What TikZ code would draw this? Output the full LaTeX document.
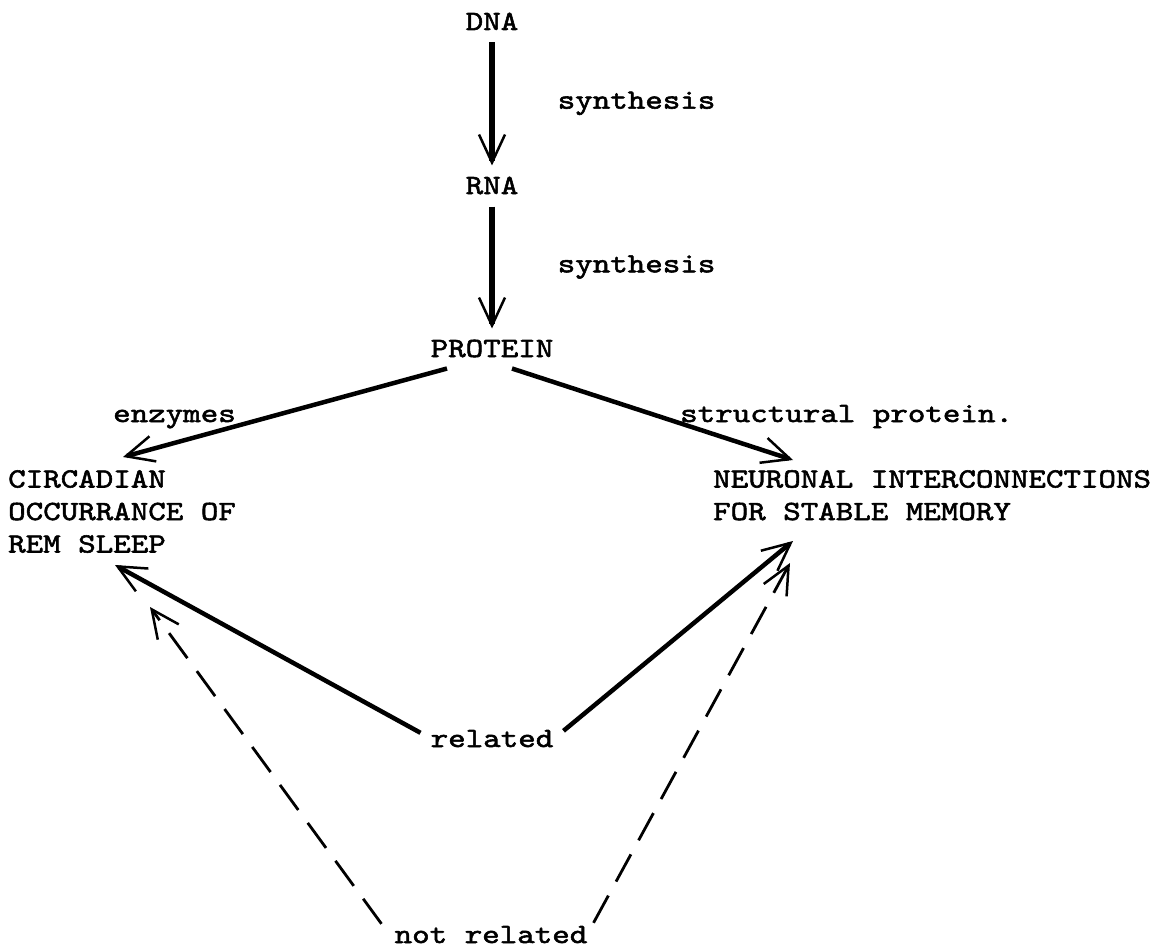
\documentclass[tikz,border=0pt]{standalone}
\usepackage{fontspec}
\setmonofont{lmmono10-regular.otf}[FakeStretch=1.2, FakeBold=2]
\usetikzlibrary{arrows.meta,positioning}

\begin{document}
\begin{tikzpicture}[x=1pt, y=-1pt,
node distance = 6pt and 63pt,
every node/.style = {inner sep=0pt, font=\ttfamily\fontsize{27.8}{32.5}\selectfont},
barb/.style = {-{Straight Barb[length=28pt,width=26pt,line width=2.5pt]}},
fat/.style = {barb, line width=4.5pt},
vert/.style = {fat, line width=5.5pt, shorten <=12pt, shorten >=11pt},
loose/.style = {barb, line width=2.8pt, dash pattern=on 31pt off 16pt}
                        ]
\useasboundingbox (0,0) rectangle (1167,950);
\node (dna) [anchor=base] at (492,30)  {DNA};
\node (rna) [anchor=base] at (492,194) {RNA};
\node (p)   [anchor=base] at (492,357) {PROTEIN};

\node (c) [anchor=north west, align=left] at (8,470)   {CIRCADIAN\\OCCURRANCE OF\\REM SLEEP};
\node (n) [anchor=north west, align=left] at (713,470) {NEURONAL INTERCONNECTIONS\\FOR STABLE MEMORY};

\node (enz)  [anchor=base west] at (113,422) {enzymes};
\node (str)  [anchor=base west] at (680,422) {structural protein.};
\node (rel)  [anchor=base] at (492,747) {related};
\node (nrel) [anchor=base] at (491,943) {not related};

%
\foreach \i/\j in {dna/rna, rna/p}
    \draw[vert] (\i) -- (\j) node[midway, right=63pt] {synthesis};

%
\draw[fat] ([xshift=-45pt,yshift=-11pt]p.south) -- ([xshift=115pt,yshift=13pt]c.north west);
\draw[fat] ([xshift=20pt,yshift=-11pt]p.south)  -- ([xshift=80pt,yshift=10pt]n.north west);

%
\draw[fat] ([xshift=-10pt,yshift=-3pt]rel.north west) -- ([xshift=107pt,yshift=-95pt]c.north west);
\draw[fat] ([xshift=10pt,yshift=-1pt]rel.north east)  -- ([xshift=80pt,yshift=-71pt]n.north west);
\draw[loose] ([xshift=-13pt,yshift=2pt]nrel.north west) -- ([xshift=142pt,yshift=-137pt]c.north west);
\draw[loose] ([xshift=6pt,yshift=3pt]nrel.north east)   -- ([xshift=77pt,yshift=-93pt]n.north west);
\end{tikzpicture}
\end{document}
